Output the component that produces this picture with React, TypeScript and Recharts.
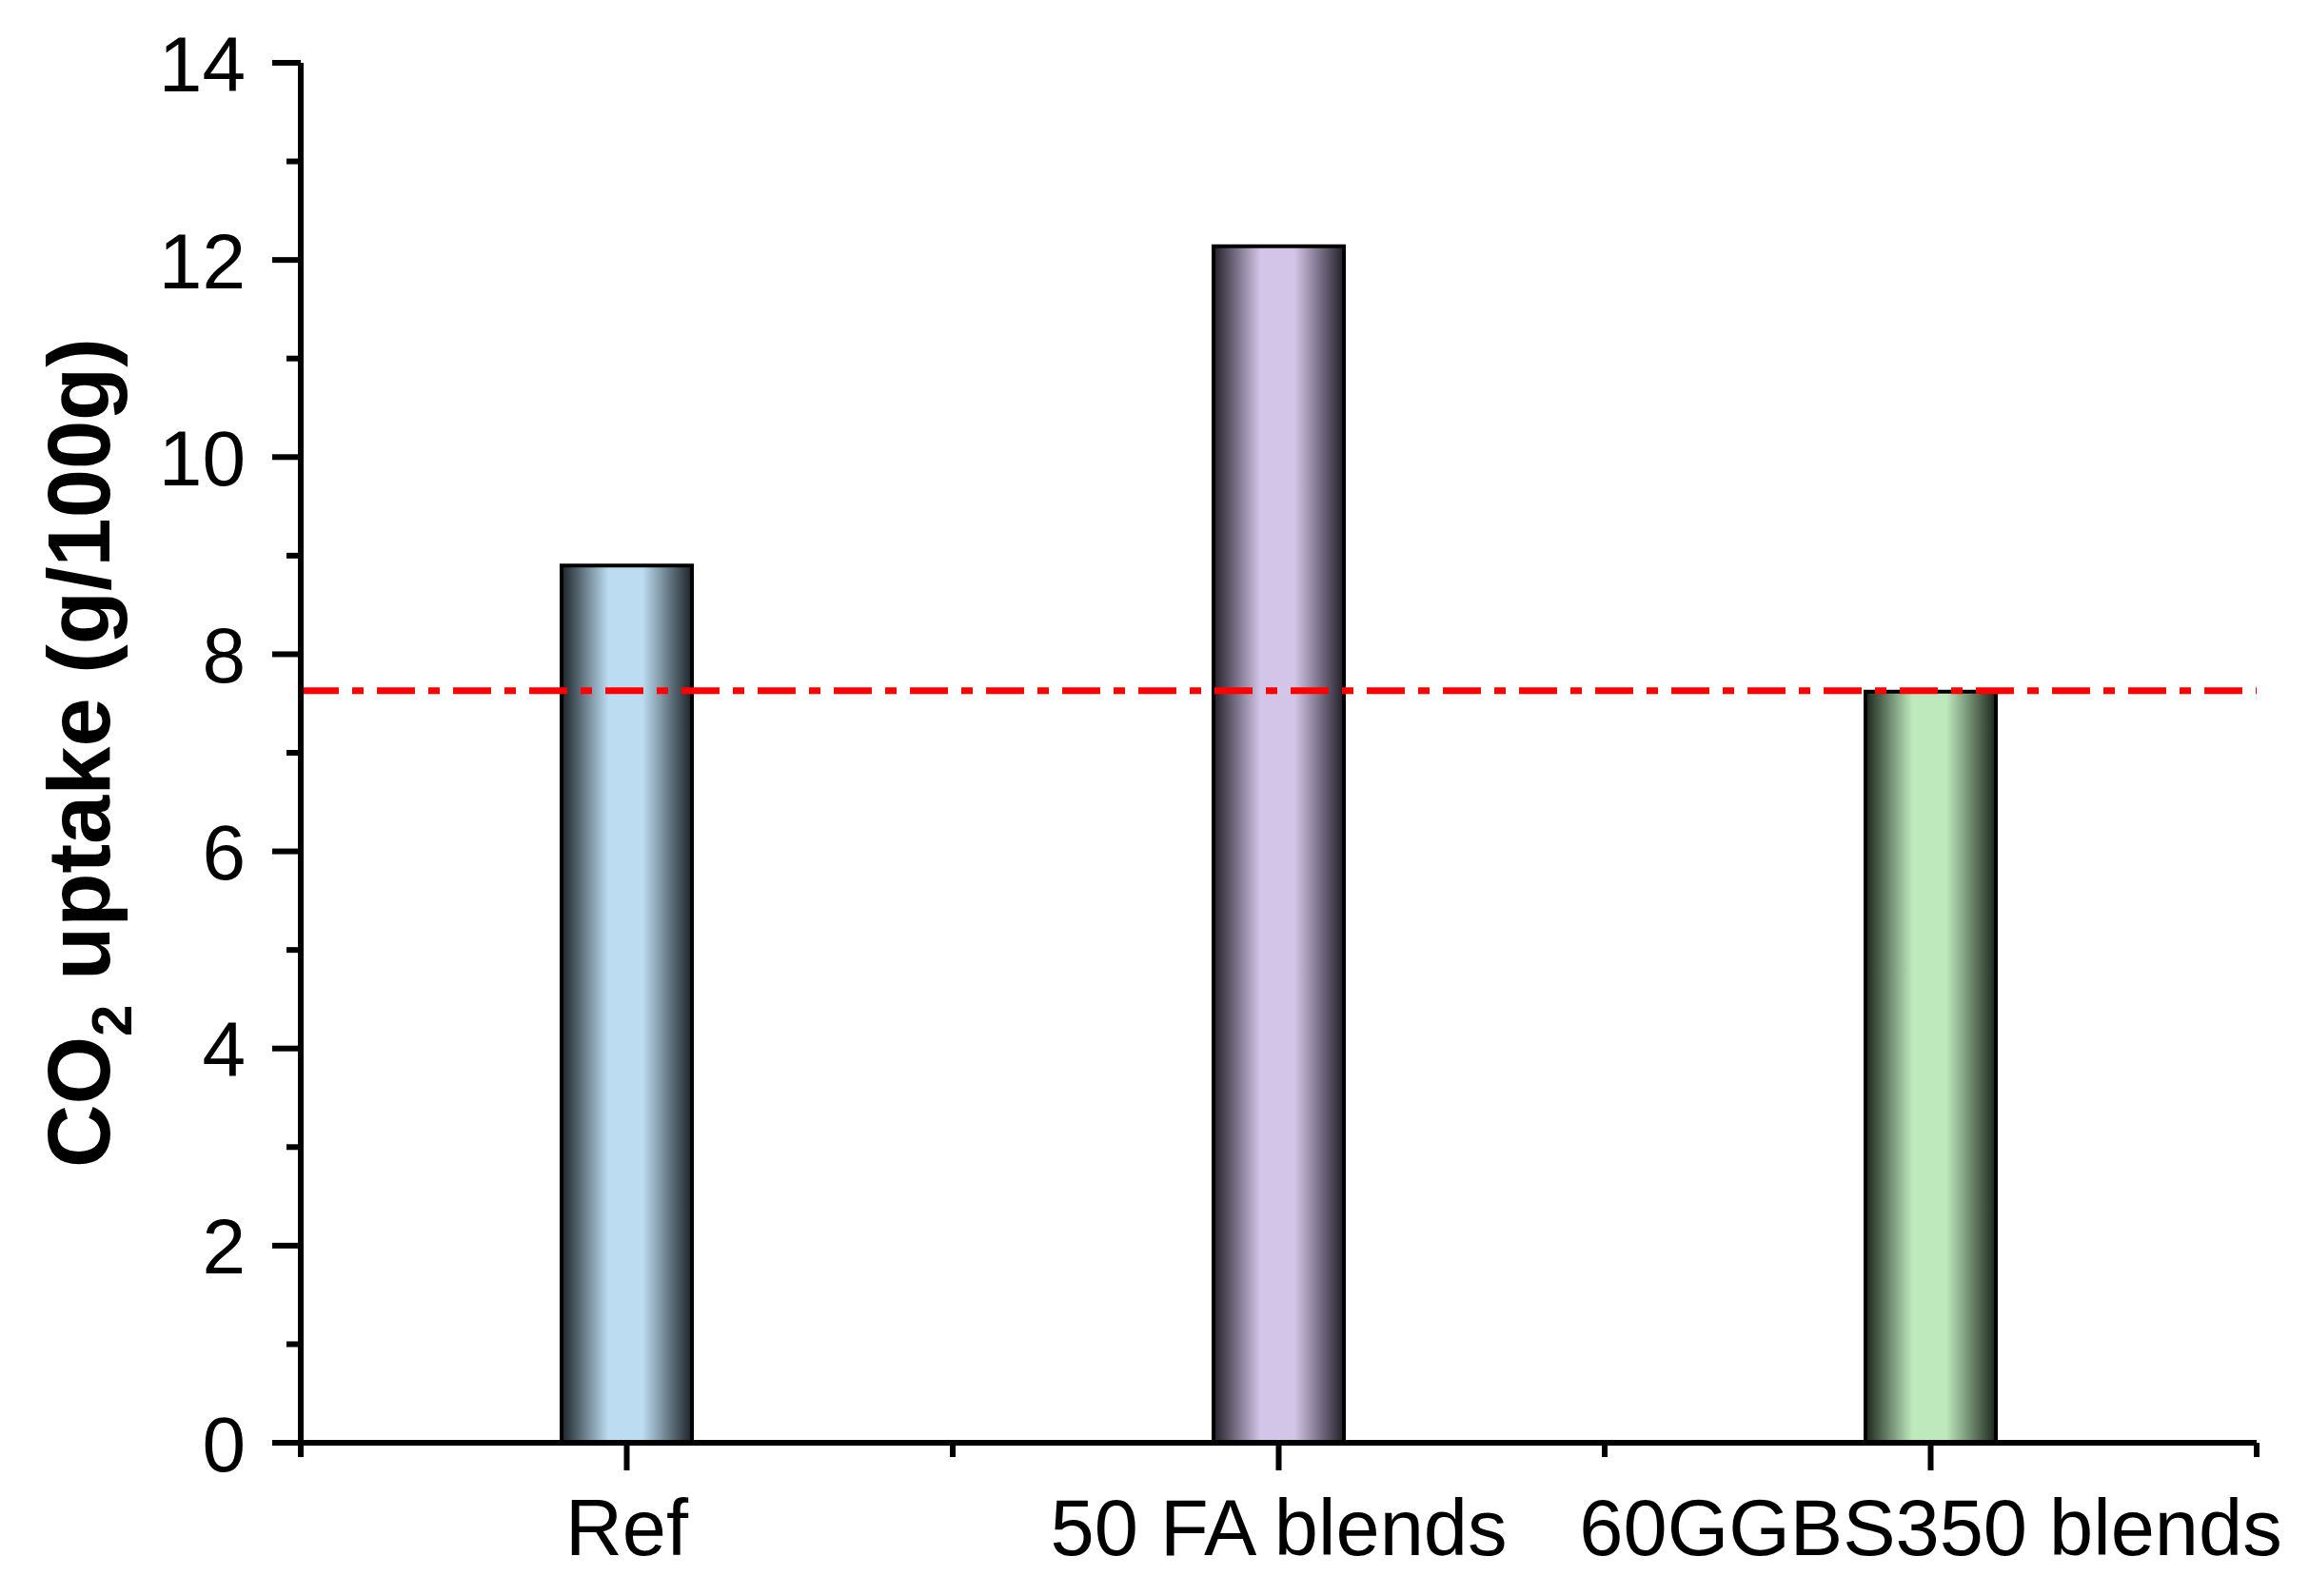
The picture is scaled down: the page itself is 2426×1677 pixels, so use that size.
import { Bar, BarChart, Cell, ReferenceLine, XAxis, YAxis } from "recharts";

const categories = ["Ref", "50 FA blends", "60GGBS350 blends"];
const uptakeValues = [8.9, 12.14, 7.62];
const baselineUptake = 7.63;
const yTicks = [0, 1, 2, 3, 4, 5, 6, 7, 8, 9, 10, 11, 12, 13, 14];
const barLightColors = ["#bcdcf1", "#d3c5e8", "#bee9bd"];
const barDarkColors = ["#1b2328", "#221f29", "#1b261c"];

const chartData = categories.map((name, i) => ({ name, uptake: uptakeValues[i] }));

const WIDTH = 2426;
const HEIGHT = 1677;
const MARGIN = { top: 66, right: 55, left: 0, bottom: 0 };
const Y_AXIS_WIDTH = 316;
const X_AXIS_HEIGHT = 161;
const FONT = '"Liberation Sans", Arial, sans-serif';
const plotWidth = WIDTH - MARGIN.left - MARGIN.right - Y_AXIS_WIDTH;
const bandWidth = plotWidth / categories.length;

function YTick(props: any) {
  const { x, y, payload } = props;
  const major = payload.value % 2 === 0;
  return (
    <g>
      <line x1={x - (major ? 30 : 15)} x2={x} y1={y} y2={y} stroke="#000" strokeWidth={6} />
      {major && (
        <text x={x - 58} y={y} dy="0.36em" textAnchor="end" fontSize={82} fontFamily={FONT} fill="#000">
          {payload.value}
        </text>
      )}
    </g>
  );
}

function XTick(props: any) {
  const { x, y, payload, index } = props;
  const half = bandWidth / 2;
  return (
    <g>
      <line x1={x} x2={x} y1={y} y2={y + 29} stroke="#000" strokeWidth={6} />
      <line x1={x - half} x2={x - half} y1={y} y2={y + 15} stroke="#000" strokeWidth={6} />
      {index === categories.length - 1 && (
        <line x1={x + half} x2={x + half} y1={y} y2={y + 15} stroke="#000" strokeWidth={6} />
      )}
      <text x={x} y={y + 118} textAnchor="middle" fontSize={83} fontFamily={FONT} fill="#000">
        {payload.value}
      </text>
    </g>
  );
}

function YLabel() {
  const bx = 115;
  const cy = 791;
  return (
    <text
      x={bx}
      y={cy}
      transform={`rotate(-90, ${bx}, ${cy})`}
      textAnchor="middle"
      fontSize={92}
      fontWeight="bold"
      fontFamily={FONT}
      fill="#000"
    >
      CO
      <tspan fontSize={60} dy={23}>2</tspan>
      <tspan dy={-23}> uptake (g/100g)</tspan>
    </text>
  );
}

export default function App() {
  return (
    <div style={{ position: "absolute", left: 0, top: 0, width: WIDTH, height: HEIGHT, background: "#fff" }}>
      <BarChart width={WIDTH} height={HEIGHT} data={chartData} margin={MARGIN} barCategoryGap="40%">
        <defs>
          {categories.map((c, i) => (
            <linearGradient key={c} id={`barGrad${i}`} x1="0" y1="0" x2="1" y2="0">
              <stop offset="0%" stopColor={barDarkColors[i]} />
              <stop offset="36%" stopColor={barLightColors[i]} />
              <stop offset="62%" stopColor={barLightColors[i]} />
              <stop offset="100%" stopColor={barDarkColors[i]} />
            </linearGradient>
          ))}
        </defs>
        <XAxis
          dataKey="name"
          height={X_AXIS_HEIGHT}
          interval={0}
          tickSize={0}
          tickMargin={0}
          tickLine={false}
          tick={<XTick />}
          axisLine={{ stroke: "#000", strokeWidth: 6 }}
        />
        <XAxis
          xAxisId="top"
          dataKey="name"
          orientation="top"
          height={0}
          tick={false}
          tickLine={false}
          axisLine={{ stroke: "#000", strokeWidth: 6 }}
        />
        <YAxis
          width={Y_AXIS_WIDTH}
          domain={[0, 14]}
          ticks={yTicks}
          interval={0}
          tickSize={0}
          tickMargin={0}
          tickLine={false}
          tick={<YTick />}
          axisLine={{ stroke: "#000", strokeWidth: 6 }}
          label={<YLabel />}
        />
        <YAxis
          yAxisId="right"
          orientation="right"
          width={0}
          domain={[0, 14]}
          tick={false}
          tickLine={false}
          axisLine={{ stroke: "#000", strokeWidth: 6 }}
        />
        <Bar dataKey="uptake" stroke="#000" strokeWidth={4} isAnimationActive={false}>
          {chartData.map((d, i) => (
            <Cell key={d.name} fill={`url(#barGrad${i})`} />
          ))}
        </Bar>
        <ReferenceLine
          y={baselineUptake}
          stroke="#ff0000"
          strokeWidth={7}
          strokeDasharray="40 14 12 14"
        />
      </BarChart>
    </div>
  );
}
